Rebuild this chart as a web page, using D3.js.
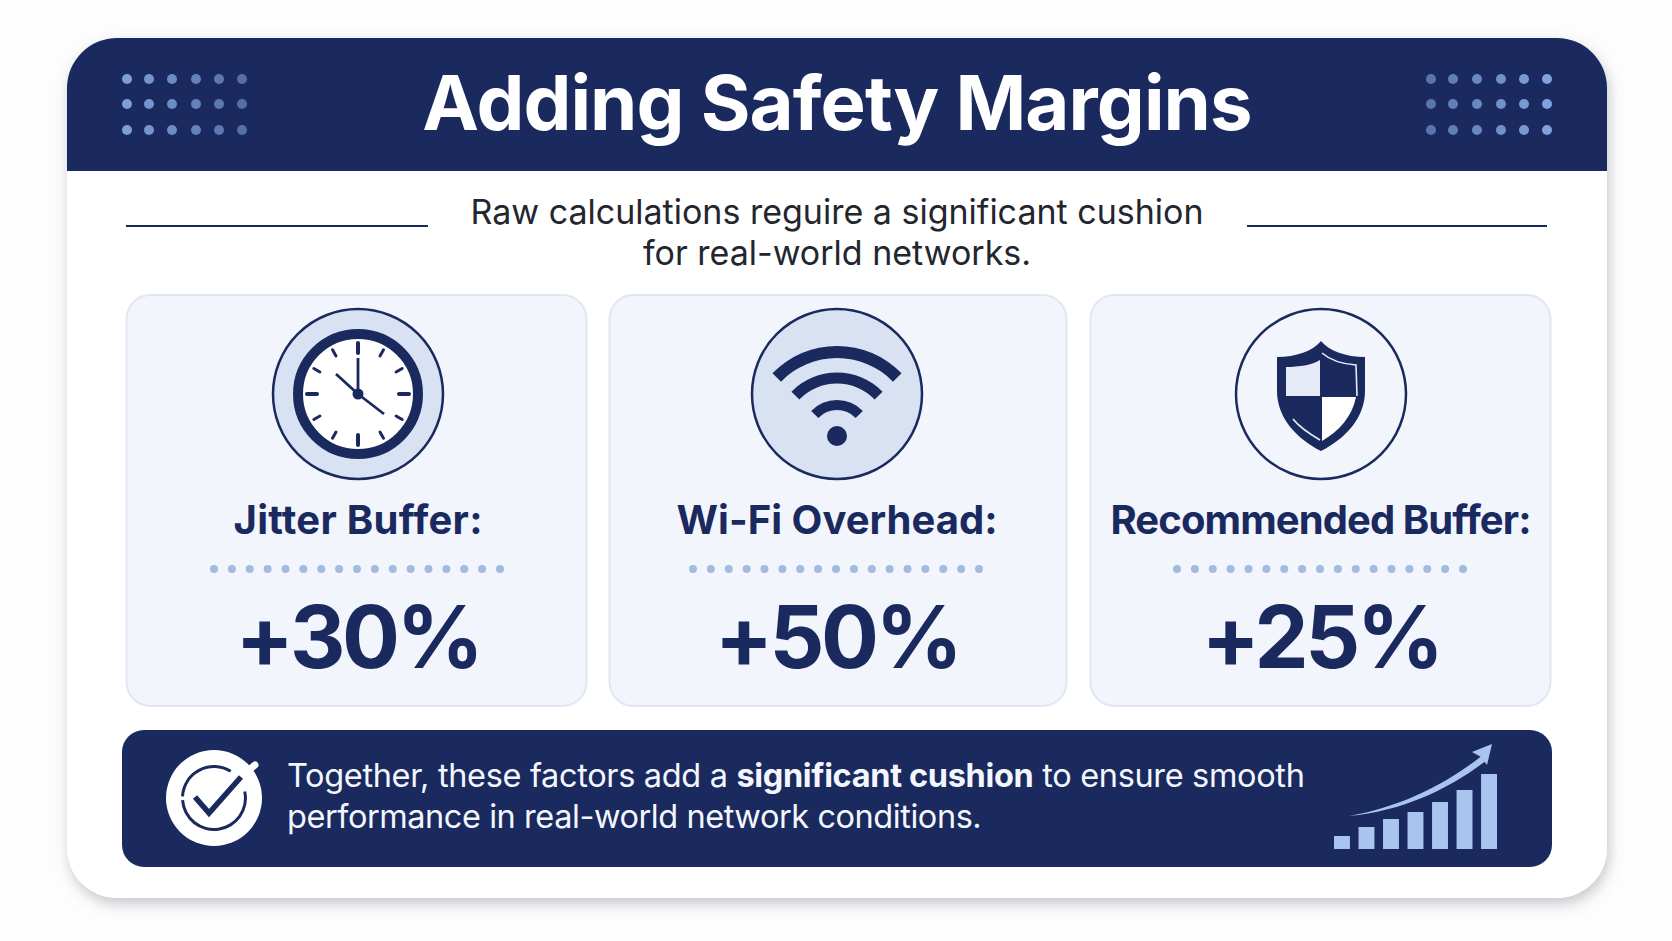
<!DOCTYPE html>
<html>
<head>
<meta charset="utf-8">
<script src="https://cdn.jsdelivr.net/npm/d3@7/dist/d3.min.js"></script>
<style>
  html, body { margin: 0; background: #fdfdfe; overflow: hidden; }
  text { font-family: Inter, "Noto Sans", sans-serif; white-space: pre; }
</style>
</head>
<body>
<svg id="chart" width="1672" height="941"></svg>
<script>
// Chart content
const title = 'Adding Safety Margins';
const subtitleLines = ['Raw calculations reguire a significant cushion', 'for real-world networks.'];
const cardLabels = ['Jitter Buffer:', 'Wi-Fi Overhead:', 'Recommended Buffer:'];
const cardValues = [30, 50, 25];
const footerLine1 = [
  { text: 'Together, these factors add a ', bold: false },
  { text: 'significant cushion', bold: true },
  { text: ' to ensure smooth', bold: false }
];
const footerLine2 = 'performance in real-world network conditions.';
const growthBars = [13, 22, 30, 37, 47, 59, 75];

const navy = '#1a2a5e';
const paleBlue = '#d8e2f3';
const midBlue = '#a3bbe3';
const lightBlue = '#a9c4ee';

const svg = d3.select('#chart');

// Soft shadow under the main panel
const defs = svg.append('defs');
defs.append('filter').attr('id', 'panelShadow')
  .attr('x', '-5%').attr('y', '-5%').attr('width', '110%').attr('height', '112%')
  .append('feDropShadow')
  .attr('dx', 2).attr('dy', 6).attr('stdDeviation', 7)
  .attr('flood-color', '#6b6f78').attr('flood-opacity', 0.38);

// Main panel
svg.append('rect')
  .attr('x', 67).attr('y', 38).attr('width', 1540).attr('height', 860)
  .attr('rx', 50)
  .attr('fill', '#ffffff')
  .attr('filter', 'url(#panelShadow)');

// Header band, rounded on the top corners only
const headerPath = d3.path();
headerPath.moveTo(67, 171);
headerPath.lineTo(67, 88);
headerPath.arcTo(67, 38, 117, 38, 50);
headerPath.lineTo(1557, 38);
headerPath.arcTo(1607, 38, 1607, 88, 50);
headerPath.lineTo(1607, 171);
headerPath.closePath();
svg.append('path').attr('d', headerPath.toString()).attr('fill', navy);

svg.append('text')
  .attr('x', 837).attr('y', 130)
  .attr('text-anchor', 'middle')
  .attr('font-size', 76).attr('font-weight', 700)
  .attr('letter-spacing', -0.9)
  .attr('fill', '#ffffff')
  .text(title);

// Decorative dot grids in the header
function dotGrid(xs, fade) {
  const rows = [79, 104, 130];
  const cells = d3.cross(xs.map((x, i) => ({ x, i })), rows);
  svg.append('g').selectAll('circle')
    .data(cells)
    .enter()
    .append('circle')
    .attr('cx', d => d[0].x)
    .attr('cy', d => d[1])
    .attr('r', 5)
    .attr('fill', '#86a8e4')
    .attr('opacity', d => fade(d[0].i));
}
dotGrid([127, 149, 172, 196, 219, 242], d3.scaleLinear().domain([0, 5]).range([0.92, 0.55]));
dotGrid([1431, 1453, 1477, 1501, 1524, 1547], d3.scaleLinear().domain([0, 5]).range([0.6, 0.95]));

// Subtitle with side rules
svg.append('g').selectAll('text')
  .data(subtitleLines)
  .enter()
  .append('text')
  .attr('x', 837)
  .attr('y', (d, i) => 224 + i * 41)
  .attr('text-anchor', 'middle')
  .attr('font-size', 34)
  .attr('fill', '#23262e')
  .text(d => d);

svg.append('g').selectAll('line')
  .data([[126, 428], [1247, 1547]])
  .enter()
  .append('line')
  .attr('x1', d => d[0]).attr('x2', d => d[1])
  .attr('y1', 226).attr('y2', 226)
  .attr('stroke', navy).attr('stroke-width', 2);

// Cards
const cardBoxes = [
  { x0: 126, x1: 586, cx: 358, labelWidth: 249 },
  { x0: 609, x1: 1066, cx: 837, labelWidth: 321 },
  { x0: 1090, x1: 1550, cx: 1321, labelWidth: 421 }
];
const cardTop = 295;
const cardBottom = 706;
const iconY = 394;

const cards = svg.append('g').selectAll('g')
  .data(cardLabels.map((label, i) => ({ label, value: cardValues[i], box: cardBoxes[i] })))
  .enter()
  .append('g');

cards.append('rect')
  .attr('x', d => d.box.x0 + 0.5)
  .attr('y', cardTop)
  .attr('width', d => d.box.x1 - d.box.x0)
  .attr('height', cardBottom - cardTop)
  .attr('rx', 24)
  .attr('fill', '#f2f5fc')
  .attr('stroke', '#e0e7f4')
  .attr('stroke-width', 2);

cards.append('text')
  .attr('x', d => d.box.cx)
  .attr('y', 534)
  .attr('text-anchor', 'middle')
  .attr('font-size', 40).attr('font-weight', 650)
  .attr('textLength', d => d.box.labelWidth)
  .attr('lengthAdjust', 'spacing')
  .attr('fill', navy)
  .text(d => d.label);

cards.append('text')
  .attr('x', d => d.box.cx)
  .attr('y', 668)
  .attr('text-anchor', 'middle')
  .attr('font-size', 86).attr('font-weight', 700)
  .attr('letter-spacing', -3.5)
  .attr('fill', navy)
  .text(d => '+' + d.value + '%');

cards.each(function (d) {
  const dotX = d3.scaleLinear().domain([0, 16]).range([d.box.cx - 144, d.box.cx + 142]);
  d3.select(this).append('g').selectAll('circle')
    .data(d3.range(17))
    .enter()
    .append('circle')
    .attr('cx', i => dotX(i))
    .attr('cy', 569)
    .attr('r', 4)
    .attr('fill', midBlue);
});

// Clock icon
const clock = svg.append('g').attr('transform', `translate(${cardBoxes[0].cx},${iconY})`);
clock.append('circle').attr('r', 85).attr('fill', paleBlue).attr('stroke', navy).attr('stroke-width', 2.5);
clock.append('circle').attr('r', 60).attr('fill', '#ffffff').attr('stroke', navy).attr('stroke-width', 10);
clock.selectAll('line.tick')
  .data(d3.range(12))
  .enter()
  .append('line')
  .attr('class', 'tick')
  .attr('x1', h => Math.sin(h * Math.PI / 6) * (h % 3 === 0 ? 41 : 44))
  .attr('y1', h => -Math.cos(h * Math.PI / 6) * (h % 3 === 0 ? 41 : 44))
  .attr('x2', h => Math.sin(h * Math.PI / 6) * 51)
  .attr('y2', h => -Math.cos(h * Math.PI / 6) * 51)
  .attr('stroke', navy)
  .attr('stroke-linecap', 'round')
  .attr('stroke-width', h => (h % 3 === 0 ? 4 : 3));
clock.append('g').selectAll('line')
  .data([[0, -36], [-22, -20], [26, 20]])
  .enter()
  .append('line')
  .attr('x1', 0).attr('y1', 0)
  .attr('x2', d => d[0]).attr('y2', d => d[1])
  .attr('stroke', navy).attr('stroke-width', 2.8);
clock.append('circle').attr('r', 5.5).attr('fill', navy);

// Wi-Fi icon
const wifi = svg.append('g').attr('transform', `translate(${cardBoxes[1].cx},${iconY})`);
wifi.append('circle').attr('r', 85).attr('fill', paleBlue).attr('stroke', navy).attr('stroke-width', 2.5);
const wifiArc = d3.arc().startAngle(-0.8).endAngle(0.8);
wifi.append('g').attr('transform', 'translate(0,42)').selectAll('path')
  .data([[84, 12], [58, 11], [31, 10]])
  .enter()
  .append('path')
  .attr('d', d => wifiArc({ innerRadius: d[0] - d[1] / 2, outerRadius: d[0] + d[1] / 2 }))
  .attr('fill', navy);
wifi.append('circle').attr('cy', 42).attr('r', 10).attr('fill', navy);

// Shield icon
const shield = svg.append('g').attr('transform', `translate(${cardBoxes[2].cx},${iconY})`);
shield.append('circle').attr('r', 85).attr('fill', 'none').attr('stroke', navy).attr('stroke-width', 2.5);
shield.append('path')
  .attr('d', 'M0,-53 C-8,-43 -25,-37 -44,-37 L-44,-3 C-44,24 -24,45 0,57 C24,45 44,24 44,-3 L44,-37 C25,-37 8,-43 0,-53 Z')
  .attr('fill', navy);
shield.append('path')
  .attr('d', 'M-1,-34 C-9,-29 -22,-27 -35,-27 L-35,2 L-1,2 Z')
  .attr('fill', '#e4eaf6');
shield.append('path')
  .attr('d', 'M1,3 L35,3 C31,23 18,37 1,47 Z')
  .attr('fill', '#ffffff');
shield.append('path')
  .attr('d', 'M1,-41 C9,-34 22,-30 35,-29 L36,2')
  .attr('fill', 'none').attr('stroke', '#e6ecf7').attr('stroke-width', 1.6);
shield.append('path')
  .attr('d', 'M-28,25 C-21,34 -11,40 -1,46')
  .attr('fill', 'none').attr('stroke', '#e6ecf7').attr('stroke-width', 1.6);

// Footer band
svg.append('rect')
  .attr('x', 122).attr('y', 730).attr('width', 1430).attr('height', 137)
  .attr('rx', 22)
  .attr('fill', navy);

const footerText = svg.append('text')
  .attr('x', 287).attr('y', 787)
  .attr('font-size', 32.5)
  .attr('letter-spacing', -0.34)
  .attr('fill', '#f3f6fc');
footerText.selectAll('tspan')
  .data(footerLine1)
  .enter()
  .append('tspan')
  .attr('font-weight', d => (d.bold ? 700 : 400))
  .text(d => d.text);

svg.append('text')
  .attr('x', 287).attr('y', 828)
  .attr('font-size', 32.5)
  .attr('letter-spacing', -0.44)
  .attr('fill', '#f3f6fc')
  .text(footerLine2);

// Check badge
const badge = svg.append('g').attr('transform', 'translate(214,798)');
badge.append('circle').attr('r', 48).attr('fill', '#ffffff');
badge.append('line')
  .attr('x1', 30).attr('y1', -24).attr('x2', 41).attr('y2', -33)
  .attr('stroke', '#ffffff').attr('stroke-width', 7).attr('stroke-linecap', 'round');
const ringArc = d3.arc().innerRadius(30).outerRadius(33);
badge.append('g').selectAll('path')
  .data([[-87, 32], [78, 266]])
  .enter()
  .append('path')
  .attr('d', d => ringArc({ startAngle: d[0] * Math.PI / 180, endAngle: d[1] * Math.PI / 180 }))
  .attr('fill', navy);
badge.append('path')
  .attr('d', d3.line()([[-19, -1], [-5, 15], [27, -21]]))
  .attr('fill', 'none')
  .attr('stroke', navy).attr('stroke-width', 5.5);

// Small growth bars in the footer
const barX = d3.scaleBand()
  .domain(d3.range(growthBars.length))
  .range([1334, 1497])
  .paddingInner(0.35);
const barY = d3.scaleLinear()
  .domain([0, d3.max(growthBars)])
  .range([849, 774]);

svg.append('g').selectAll('rect')
  .data(growthBars)
  .enter()
  .append('rect')
  .attr('x', (d, i) => barX(i))
  .attr('y', d => barY(d))
  .attr('width', barX.bandwidth())
  .attr('height', d => barY(0) - barY(d))
  .attr('fill', lightBlue);

// Rising arrow over the bars
svg.append('path')
  .attr('d', 'M1349,816 C1400,807 1445,785 1483,755 L1487,760 C1448,790 1402,811 1349,816 Z')
  .attr('fill', lightBlue);
svg.append('path')
  .attr('d', 'M1492,744 L1472,752 L1481,757 L1487,765 Z')
  .attr('fill', lightBlue);
</script>
</body>
</html>
